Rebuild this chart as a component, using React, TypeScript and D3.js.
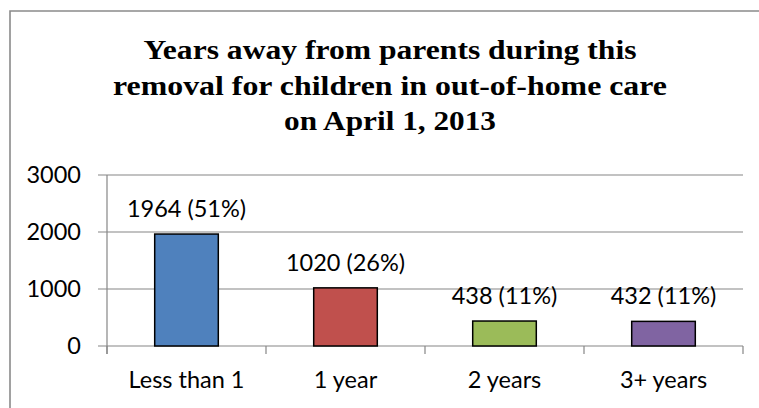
import React, { useEffect } from "react";
import * as d3 from "d3";

const categories = ["Less than 1", "1 year", "2 years", "3+ years"];
const values = [1964, 1020, 438, 432];
const percents = ["51%", "26%", "11%", "11%"];
const barColors = ["#4F81BD", "#C0504D", "#9BBB59", "#8064A2"];
const yTicks = [0, 1000, 2000, 3000];
const titleLines = [
  "Years away from parents during this",
  "removal for children in out-of-home care",
  "on April 1, 2013",
];
const titleWidths = [493, 554, 212];

export default function App() {
  useEffect(() => {
    document.body.style.overflow = "hidden";
    document.body.style.margin = "0";
  }, []);
  const W = 759;
  const H = 408;
  const left = 107;
  const right = 743;
  const y0 = 346;
  const yTop = 175;
  const x = d3.scaleBand<string>().domain(categories).range([left, right]).paddingInner(0).paddingOuter(0);
  const y = d3.scaleLinear().domain([0, 3000]).range([y0, yTop]);
  const bw = x.bandwidth() * 0.4;
  const grid = "#868686";
  const font = "Lato, 'Open Sans', sans-serif";
  const fs = 23.5;
  const boundaries = categories.map((c) => x(c) as number).concat([right]);
  return (
    <svg width={W} height={H} style={{ position: "absolute", left: 0, top: 0, background: "#fff", display: "block" }}>
      <path d={`M10,${H + 5} L10,11 L${W + 5},11`} fill="none" stroke="#8a8a8a" strokeWidth={1.6} />
      {titleLines.map((t, i) => (
        <text
          key={i}
          x={390}
          y={59 + i * 35.5}
          textAnchor="middle"
          fontFamily="'Liberation Serif', 'Times New Roman', Times, serif"
          fontWeight="bold"
          fontSize={27.5}
          fill="#000"
          textLength={titleWidths[i]}
          lengthAdjust="spacingAndGlyphs"
        >
          {t}
        </text>
      ))}
      {yTicks.map((t) => (
        <g key={t}>
          <line x1={left - 9} x2={right} y1={y(t)} y2={y(t)} stroke={grid} strokeWidth={1.2} />
          <text x={81} y={y(t)} dy="0.35em" textAnchor="end" fontFamily={font} fontSize={fs} fill="#000">
            {t}
          </text>
        </g>
      ))}
      <line x1={left} x2={left} y1={yTop} y2={y0 + 8} stroke={grid} strokeWidth={1.2} />
      {boundaries.map((b, i) => (
        <line key={i} x1={b} x2={b} y1={y0} y2={y0 + 8} stroke={grid} strokeWidth={1.2} />
      ))}
      {categories.map((c, i) => {
        const cx = (x(c) as number) + x.bandwidth() / 2;
        return (
          <g key={c}>
            <rect x={cx - bw / 2} y={y(values[i])} width={bw} height={y0 - y(values[i])} fill={barColors[i]} stroke="#000" strokeWidth={1.5} />
            <text x={cx} y={y(values[i]) - 17} textAnchor="middle" fontFamily={font} fontSize={fs} fill="#000">
              {`${values[i]} (${percents[i]})`}
            </text>
            <text x={cx} y={388} textAnchor="middle" fontFamily={font} fontSize={fs} fill="#000">
              {c}
            </text>
          </g>
        );
      })}
    </svg>
  );
}
